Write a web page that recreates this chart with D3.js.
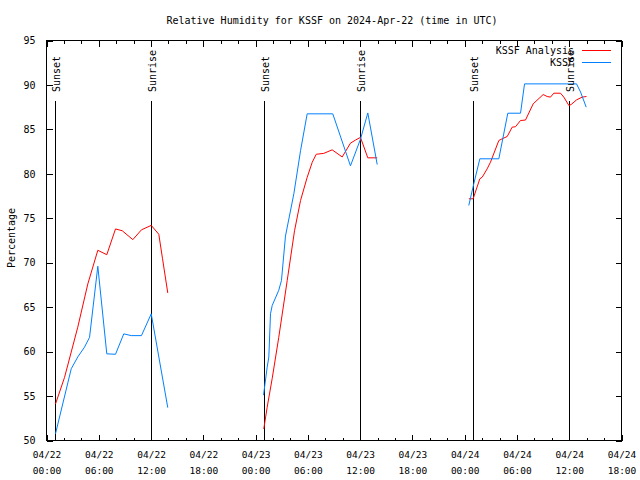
<!DOCTYPE html>
<html><head><meta charset="utf-8">
<script src="https://cdn.jsdelivr.net/npm/d3@7"></script>
<style>body{margin:0;background:#fff}svg{display:block}</style>
</head><body><svg id="c" width="640" height="480"></svg>
<script>
// ---- data (hours since 2024-04-22 00:00 UTC) ----
const titleText = "Relative Humidity for KSSF on 2024-Apr-22 (time in UTC)";
const yLabel = "Percentage";
const seriesNames = ["KSSF Analysis", "KSSF"];
const xTickHours = [0, 6, 12, 18, 24, 30, 36, 42, 48, 54, 60, 66];
const xTickDates = ["04/22","04/22","04/22","04/22","04/23","04/23","04/23","04/23","04/24","04/24","04/24","04/24"];
const xTickTimes = ["00:00","06:00","12:00","18:00","00:00","06:00","12:00","18:00","00:00","06:00","12:00","18:00"];
const xMinorHours = d3.range(0, 67, 2);
const yTicks = [50, 55, 60, 65, 70, 75, 80, 85, 90, 95];
const sunsetHours = [1.03, 25.05, 49.05];
const sunriseHours = [12.05, 36.07, 60.07];

const analysisHours = [
  1.03, 2.07, 3.59, 4.74, 5.89, 6.92, 7.92, 8.69, 9.91, 10.90, 12.02, 12.89, 13.31, 13.92,
  19,
  24.94, 25.33, 25.91, 26.66, 27.63, 28.47, 29.16, 29.92, 30.50, 30.96, 31.83, 32.79, 33.94, 34.89, 35.47, 36.04, 36.88, 37.96,
  43,
  48.48, 48.97, 49.74, 50.01, 50.58, 50.96, 51.92, 52.30, 52.88, 53.45, 53.83, 54.41, 54.98, 55.86, 57.01, 57.47, 57.85, 58.23, 59.00, 59.38, 59.96, 60.22, 60.84, 61.49, 61.98
];
const analysisValues = [
  54.1, 57.1, 62.75, 67.6, 71.4, 70.9, 73.8, 73.6, 72.6, 73.7, 74.2, 73.2, 70.5, 66.6,
  null,
  51.3, 53.75, 57.0, 61.6, 68.0, 73.6, 77.0, 79.6, 81.3, 82.2, 82.3, 82.7, 81.9, 83.45, 83.8, 84.1, 81.8, 81.8,
  null,
  77.19, 77.19, 79.44, 79.62, 80.56, 81.31, 83.75, 83.94, 84.2, 85.25, 85.3, 86.0, 86.05, 87.87, 88.92, 88.7, 88.63, 89.07, 89.07, 88.63, 87.69, 87.8, 88.32, 88.63, 88.7
];

const obsHours = [
  1.03, 2.84, 3.59, 4.36, 4.94, 5.89, 6.92, 7.92, 8.87, 9.72, 10.90, 12.02, 13.92,
  19,
  24.91, 25.33, 25.52, 25.71, 25.91, 26.66, 26.97, 27.43, 28.39, 29.16, 29.92, 32.86, 34.89, 36.04, 36.88, 37.96,
  43,
  48.47, 49.05, 49.74, 51.92, 52.95, 54.41, 54.87, 60.84, 61.30, 61.95
];
const obsValues = [
  50.75, 58.07, 59.4, 60.5, 61.6, 69.6, 59.75, 59.7, 62.0, 61.8, 61.8, 64.25, 53.7,
  null,
  55.1, 58.25, 59.4, 64.25, 65.2, 66.9, 68.0, 73.0, 77.75, 82.6, 86.75, 86.75, 80.9, 83.9, 86.85, 81.05,
  null,
  76.44, 78.9, 81.69, 81.69, 86.82, 86.82, 90.12, 90.12, 89.2, 87.5
];

// ---- drawing ----
const font = "'DejaVu Sans Mono', monospace";
const svg = d3.select("#c");
const L = 46, R = 621, T = 40, B = 440;
const x = d3.scaleLinear().domain([0, 66]).range([L, R]);
const y = d3.scaleLinear().domain([50, 95]).range([B, T]);

svg.append("rect").attr("width", 640).attr("height", 480).attr("fill", "#fff");

const g = svg.append("g").attr("transform", "translate(0.5,0.5)");

// frame
g.append("rect").attr("x", L).attr("y", T).attr("width", R - L).attr("height", B - T)
  .attr("fill", "none").attr("stroke", "#000").attr("shape-rendering", "crispEdges");

function styleAxis(sel) {
  sel.select(".domain").remove();
  sel.selectAll("line").attr("stroke", "#000").attr("shape-rendering", "crispEdges");
  sel.selectAll("text").attr("font-family", font).attr("font-size", 10).attr("fill", "#000");
}

// x minor ticks bottom/top
g.append("g").attr("transform", `translate(0,${B})`)
  .call(d3.axisBottom(x).tickValues(xMinorHours).tickSize(-3).tickFormat(""))
  .call(styleAxis);
g.append("g").attr("transform", `translate(0,${T})`)
  .call(d3.axisTop(x).tickValues(xMinorHours).tickSize(-3).tickFormat(""))
  .call(styleAxis);
// x major ticks
const xb = g.append("g").attr("transform", `translate(0,${B})`)
  .call(d3.axisBottom(x).tickValues(xTickHours).tickSize(-6).tickFormat(""))
  .call(styleAxis);
g.append("g").attr("transform", `translate(0,${T})`)
  .call(d3.axisTop(x).tickValues(xTickHours).tickSize(-6).tickFormat(""))
  .call(styleAxis);
// x labels (two lines)
xb.selectAll(".tick").each(function(d, i) {
  const t = d3.select(this).append("text").attr("font-family", font).attr("font-size", 9.5)
    .attr("fill", "#000").attr("text-anchor", "middle");
  t.append("tspan").attr("x", 0).attr("y", 17).text(xTickDates[i]);
  t.append("tspan").attr("x", 0).attr("y", 33).text(xTickTimes[i]);
});

// y ticks
g.append("g").attr("transform", `translate(${L},0)`)
  .call(d3.axisLeft(y).tickValues(yTicks).tickSize(-6).tickPadding(11).tickFormat(d3.format("d")))
  .call(styleAxis);
g.append("g").attr("transform", `translate(${R},0)`)
  .call(d3.axisRight(y).tickValues(yTicks).tickSize(-6).tickFormat(""))
  .call(styleAxis);

// sunrise / sunset markers
const marks = sunsetHours.map(h => ({h, t: "Sunset"})).concat(sunriseHours.map(h => ({h, t: "Sunrise"})));
marks.forEach(m => {
  const px = Math.round(x(m.h));
  g.append("line").attr("x1", px).attr("x2", px).attr("y1", 100).attr("y2", B)
    .attr("stroke", "#000").attr("shape-rendering", "crispEdges");
  svg.append("text").attr("transform", `translate(${px + 5},92) rotate(-90)`)
    .attr("font-family", font).attr("font-size", 10).attr("fill", "#000").text(m.t);
});

// series
const line = d3.line().defined(d => d[1] != null).x(d => x(d[0])).y(d => y(d[1]));
const analysis = analysisHours.map((h, i) => [h, analysisValues[i]]);
const obs = obsHours.map((h, i) => [h, obsValues[i]]);
const colors = ["#ff0000", "#0080ff"];
g.append("path").datum(analysis).attr("d", line).attr("fill", "none").attr("stroke", colors[0]).attr("stroke-width", 1);
g.append("path").datum(obs).attr("d", line).attr("fill", "none").attr("stroke", colors[1]).attr("stroke-width", 1);

// legend
seriesNames.forEach((n, i) => {
  const ly = 50 + i * 12;
  svg.append("text").attr("x", 574).attr("y", ly + 3.5).attr("text-anchor", "end")
    .attr("font-family", font).attr("font-size", 10).attr("fill", "#000").text(n);
  g.append("line").attr("x1", 581).attr("x2", 610).attr("y1", ly).attr("y2", ly)
    .attr("stroke", colors[i]).attr("shape-rendering", "crispEdges");
});

// title & y label
svg.append("text").attr("x", 332).attr("y", 24).attr("text-anchor", "middle")
  .attr("font-family", font).attr("font-size", 10).attr("fill", "#000").text(titleText);
svg.append("text").attr("transform", "translate(15,238) rotate(-90)").attr("text-anchor", "middle")
  .attr("font-family", font).attr("font-size", 10).attr("fill", "#000").text(yLabel);
</script></body></html>
